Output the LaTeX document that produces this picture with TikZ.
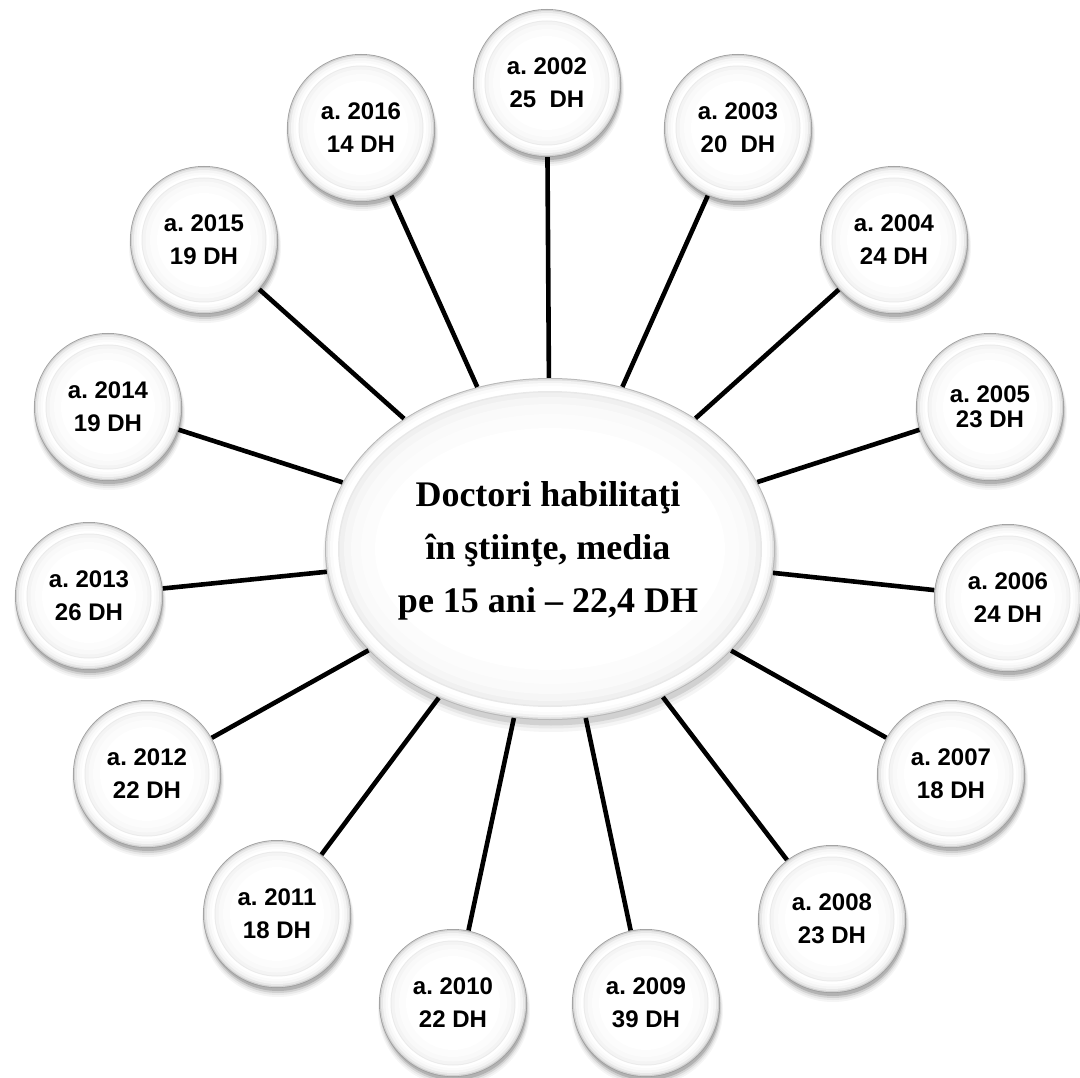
\documentclass[tikz,border=0pt]{standalone}
\usepackage{fontspec}
\setmainfont{Liberation Serif}
\newfontfamily\arialf{Liberation Sans}
\usetikzlibrary{shapes.geometric}
\tikzset{
  yearnode/.style={circle, minimum size=148pt, inner sep=0pt, align=center,
    font=\arialf\bfseries\frenchspacing\fontsize{24}{33}\selectfont},
  mainnode/.style={ellipse, minimum width=450pt, minimum height=342pt, inner sep=0pt},
  conn/.style={line width=4.6pt, black},
  maintext/.style={align=center, font=\bfseries\fontsize{36}{53}\selectfont}
}
\newcommand\yearbtn[4]{%
  \begin{scope}[shift={(#2,#3)}]
    \fill[black!4]  (1,7) circle[radius=76pt];
    \fill[black!9]  (1,6) circle[radius=75pt];
    \fill[black!18] (1,5) circle[radius=74pt];
    \fill[black!30] (1,4) circle[radius=73pt];
    \fill[black!38] (0,0) circle[radius=74pt];
    \fill[black!18] (0,0) circle[radius=73.2pt];
    \fill[black!9]  (0,0) circle[radius=72pt];
    \fill[black!4]  (0,0) circle[radius=70pt];
    \fill[black!1.5](0,0) circle[radius=67.5pt];
    \fill[white]    (0,0) circle[radius=65pt];
    \fill[black!8]  (0,0) circle[radius=62.5pt];
    \fill[black!4.5](0,0) circle[radius=61.5pt];
    \fill[black!2.5](0,0) circle[radius=58.5pt];
    \fill[black!1]  (0,0) circle[radius=54pt];
    \fill[white]    (0,0) circle[radius=47pt];
  \end{scope}
  \node[yearnode] (#1) at (#2,#3) {#4};
}
\begin{document}
\begin{tikzpicture}[x=1pt, y=-1pt]
\useasboundingbox (0,0) rectangle (1080,1078);
% central ellipse
\fill[black!4]  (551,558) ellipse[x radius=228pt, y radius=174pt];
\fill[black!9]  (551,556) ellipse[x radius=226.5pt, y radius=172.5pt];
\fill[black!18] (551,554) ellipse[x radius=225.5pt, y radius=171.5pt];
\fill[black!28] (550,549) ellipse[x radius=225pt, y radius=171pt];
\fill[black!12] (550,549) ellipse[x radius=224pt, y radius=170pt];
\fill[black!5]  (550,549) ellipse[x radius=222.5pt, y radius=168.5pt];
\fill[black!1.5](550,549) ellipse[x radius=220pt, y radius=166pt];
\fill[white]    (550,549) ellipse[x radius=217pt, y radius=163pt];
\fill[black!9]  (550,549) ellipse[x radius=212pt, y radius=158pt];
\fill[black!6]  (550,549) ellipse[x radius=210.5pt, y radius=156.5pt];
\fill[black!3.5](550,549) ellipse[x radius=206pt, y radius=152pt];
\fill[black!2]  (550,549) ellipse[x radius=199pt, y radius=145pt];
\fill[black!1]  (550,549) ellipse[x radius=189pt, y radius=135pt];
\fill[white]    (550,549) ellipse[x radius=175pt, y radius=121pt];
\node[mainnode] (main) at (550,549) {};
\node[maintext] (mtext) at (548,551) {Doctori habilitaţi\\în ştiinţe, media\\pe 15 ani – 22,4 DH};
% year circles
\yearbtn{y2002}{547}{83}{a. 2002\\25~~DH}
\yearbtn{y2003}{738}{128}{a. 2003\\20~~DH}
\yearbtn{y2004}{894}{240}{a. 2004\\24 DH}
\yearbtn{y2005}{990}{407}{a. 2005\\[-8pt]23 DH}
\yearbtn{y2006}{1008}{598}{a. 2006\\24 DH}
\yearbtn{y2007}{951}{774}{a. 2007\\18 DH}
\yearbtn{y2008}{832}{919}{a. 2008\\23 DH}
\yearbtn{y2009}{646}{1003}{a. 2009\\39 DH}
\yearbtn{y2010}{453}{1003}{a. 2010\\22 DH}
\yearbtn{y2011}{277}{914}{a. 2011\\18 DH}
\yearbtn{y2012}{147}{774}{a. 2012\\22 DH}
\yearbtn{y2013}{89}{596}{a. 2013\\26 DH}
\yearbtn{y2014}{108}{407}{a. 2014\\19 DH}
\yearbtn{y2015}{204}{240}{a. 2015\\19 DH}
\yearbtn{y2016}{361}{128}{a. 2016\\14 DH}
\foreach \y in {2002,2003,...,2016}{
  \draw[conn] (y\y) -- (main);
}
\end{tikzpicture}
\end{document}
